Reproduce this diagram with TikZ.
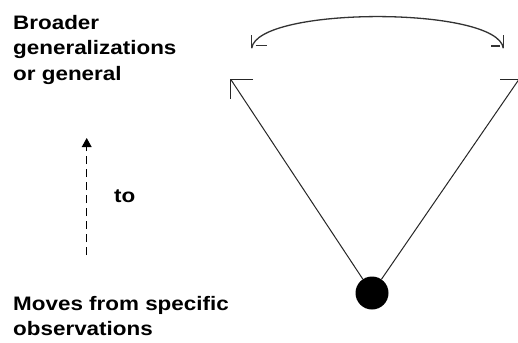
\documentclass[tikz,border=0pt]{standalone}
\usepackage{fontspec}
\setmainfont{Liberation Sans}[FakeStretch=1.15]
\usetikzlibrary{arrows.meta,calc}
\begin{document}
\begin{tikzpicture}[x=1pt,y=-1pt,
  lbl/.style={anchor=base west,inner sep=0pt,font=\fontsize{19.5}{25.5}\selectfont\bfseries},
  edge/.style={draw=black!85,line width=1pt},
  swing/.style={draw=black!80,line width=1.3pt},
  rise/.style={draw=black,line width=1.2pt,dash pattern=on 8pt off 5pt}]
  \useasboundingbox (0,0) rectangle (518,342);
  \fill[white] (0,0) rectangle (518,342);
  \clip (0,0) rectangle (518,342);

  % left text blocks
  \node[lbl] (b1) at (13,29.5) {Broader};
  \node[lbl] (b2) at (13,55) {generalizations};
  \node[lbl] (b3) at (13,80.5) {or general};
  \node[lbl] (m1) at (13,310.5) {Moves from specific};
  \node[lbl] (m2) at (13,335.5) {observations};
  \node[lbl] (to) at (114,202.5) {to};

  % dashed upward arrow
  \coordinate (up0) at (86.7,255);
  \coordinate (up1) at (86.7,138);
  \draw[rise] (up0) -- ($(up1)+(0,8)$);
  \fill (up1) -- ++(5,9) -- ++(-10,0) -- cycle;

  % the funnel: dot and two lines
  \node[circle,fill=black,minimum size=33pt,inner sep=0pt] (dot) at (372,293) {};
  \coordinate (ltip) at (230.7,79.3);
  \coordinate (rtip) at (519,79.3);
  \draw[edge] (dot) -- (ltip);
  \draw[edge] (dot) -- (rtip);
  \draw[edge] ($(ltip)+(22.5,0)$) -- (ltip) -- ++(0,19.5);
  \draw[edge] ($(rtip)+(-19,0)$) -- (rtip) -- ++(0,19.5);

  % swinging arc with two hooked ends
  \coordinate (aL) at (251.7,48.3);
  \coordinate (aR) at (503.3,48.3);
  \draw[swing] (aL) .. controls (257,6) and (498,6) .. (aR);
  \draw[swing] ($(aL)+(0,-13)$) -- (aL);
  \draw[swing] ($(aL)+(4,-2.7)$) -- ++(11.5,0);
  \draw[swing] ($(aR)+(0,-13)$) -- (aR);
  \draw[swing] ($(aR)+(-3.5,-2.3)$) -- ++(-8.5,0);
\end{tikzpicture}
\end{document}
